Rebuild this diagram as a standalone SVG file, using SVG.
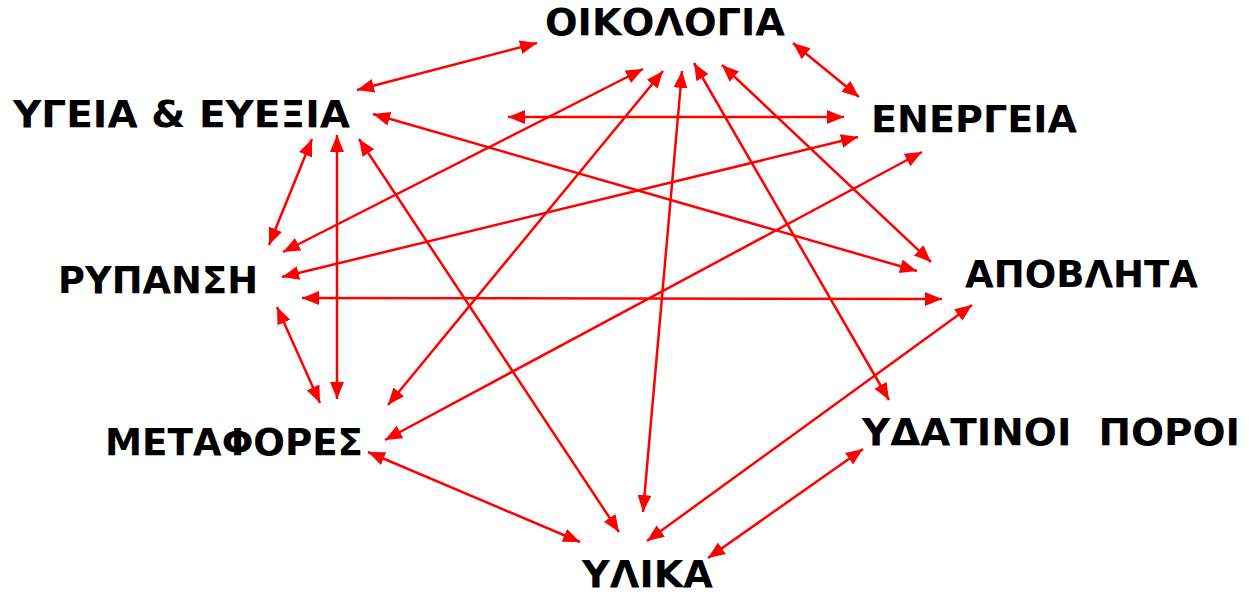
<svg xmlns="http://www.w3.org/2000/svg" width="1249" height="594" viewBox="0 0 1249 594">
<style>
.lbl{font-family:"DejaVu Sans","Liberation Sans",sans-serif;font-weight:bold;font-size:37px;fill:#000}
.c line{stroke:#ff0000;stroke-width:2.5;fill:none;marker-start:url(#ah);marker-end:url(#ah)}
</style>
<defs>
<marker id="ah" markerUnits="userSpaceOnUse" markerWidth="20" markerHeight="18" viewBox="0 0 20 18" refX="17" refY="9" orient="auto-start-reverse">
<path d="M0,2 L17,9 L0,16 Z" fill="#ff0000"/>
</marker>
</defs>
<rect width="1249" height="594" fill="#fff"/>
<g id="n-oikologia"><text class="lbl" x="545" y="35" textLength="240" lengthAdjust="spacingAndGlyphs">ΟΙΚΟΛΟΓΙΑ</text></g>
<g id="n-ygeia"><text class="lbl" x="13" y="127" textLength="337" lengthAdjust="spacingAndGlyphs">ΥΓΕΙΑ &amp; ΕΥΕΞΙΑ</text></g>
<g id="n-energeia"><text class="lbl" x="871" y="132" textLength="206" lengthAdjust="spacingAndGlyphs">ΕΝΕΡΓΕΙΑ</text></g>
<g id="n-rypansi"><text class="lbl" x="58" y="293" textLength="200" lengthAdjust="spacingAndGlyphs">ΡΥΠΑΝΣΗ</text></g>
<g id="n-apovlita"><text class="lbl" x="965" y="287" textLength="233" lengthAdjust="spacingAndGlyphs">ΑΠΟΒΛΗΤΑ</text></g>
<g id="n-metafores"><text class="lbl" x="105" y="455" textLength="258" lengthAdjust="spacingAndGlyphs">ΜΕΤΑΦΟΡΕΣ</text></g>
<g id="n-ydatinoi"><text class="lbl" x="862" y="445" textLength="378" lengthAdjust="spacingAndGlyphs" xml:space="preserve">ΥΔΑΤΙΝΟΙ  ΠΟΡΟΙ</text></g>
<g id="n-ylika"><text class="lbl" x="582" y="587" textLength="131" lengthAdjust="spacingAndGlyphs">ΥΛΙΚΑ</text></g>
<g id="connectors" class="c">
<line x1="357" y1="90" x2="537" y2="43"/>
<line x1="793" y1="43" x2="859" y2="97"/>
<line x1="508" y1="117" x2="844" y2="117"/>
<line x1="373" y1="114" x2="917" y2="271"/>
<line x1="643" y1="69" x2="283" y2="252"/>
<line x1="663" y1="71" x2="388" y2="405"/>
<line x1="682" y1="71" x2="643" y2="512"/>
<line x1="694" y1="63" x2="889" y2="400"/>
<line x1="722" y1="65" x2="931" y2="262"/>
<line x1="282" y1="277" x2="858" y2="137"/>
<line x1="385" y1="440" x2="922" y2="152"/>
<line x1="302" y1="298" x2="942" y2="299"/>
<line x1="312" y1="139" x2="269" y2="245"/>
<line x1="337" y1="135" x2="337" y2="399"/>
<line x1="359" y1="139" x2="619" y2="532"/>
<line x1="277" y1="307" x2="320" y2="403"/>
<line x1="368" y1="452" x2="580" y2="542"/>
<line x1="972" y1="305" x2="647" y2="541"/>
<line x1="863" y1="449" x2="708" y2="558"/>
</g>
</svg>
